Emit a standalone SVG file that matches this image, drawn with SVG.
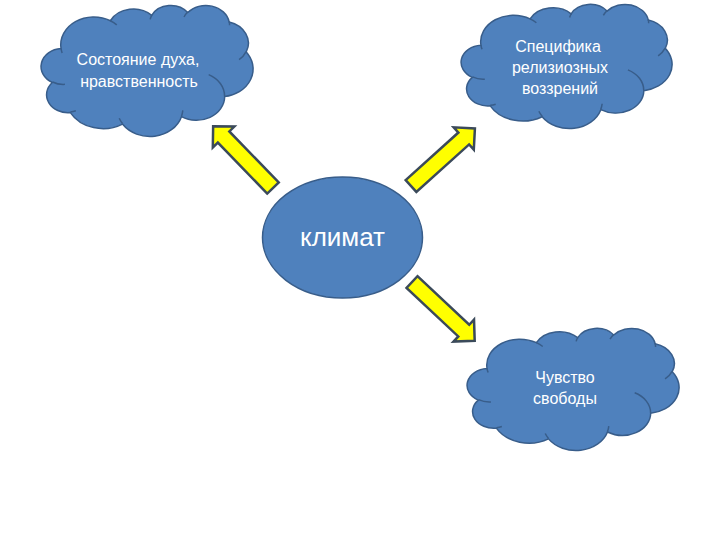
<svg xmlns="http://www.w3.org/2000/svg" xmlns:xlink="http://www.w3.org/1999/xlink" width="720" height="540" viewBox="0 0 720 540">
  <style>
    .shape { fill: #4f81bd; stroke: #385d8a; stroke-width: 1.5; }
    .fold { fill: none; stroke: #385d8a; stroke-width: 1.5; }
    .ns { vector-effect: non-scaling-stroke; }
    .lbl { font-family: "Liberation Sans", Arial, sans-serif; font-size: 16px; fill: #ffffff; text-anchor: middle; }
    .big { font-size: 25px; }
    .arrow { fill: #ffff00; stroke: #3b4a5a; stroke-width: 2.5; stroke-linejoin: miter; }
  </style>
  <defs>
    <path id="cloudBody" class="shape ns" d="M 9.03 33.26 A 15.63 21.27 0 0 1 32.42 12.04 A 12.35 16.82 0 0 1 51.98 7.95 A 10.10 13.76 0 0 1 69.06 5.74 A 11.24 15.27 0 0 1 88.70 12.91 A 12.35 16.84 0 0 1 96.80 35.79 A 15.68 21.34 0 0 1 86.58 69.92 A 13.39 18.21 0 0 1 66.10 85.22 A 15.63 21.33 0 0 1 38.15 90.89 A 17.87 24.41 0 0 1 13.44 82.11 A 10.09 13.70 0 0 1 4.89 59.14 A 10.06 13.76 0 0 1 9.03 33.26 Z"/>
    <path id="cloudFolds" class="fold ns" d="M 10.86 60.59 A 10.06 13.76 0 0 1 5.00 58.75 M 16.04 80.78 A 10.09 13.70 0 0 1 13.47 81.67 M 38.14 90.49 A 15.63 21.33 0 0 1 36.60 86.46 M 66.73 80.44 A 15.63 21.33 0 0 1 66.11 84.86 M 79.00 53.13 A 13.39 18.21 0 0 1 86.53 69.65 M 96.75 35.54 A 12.35 16.84 0 0 1 93.40 41.74 M 88.71 12.56 A 11.24 15.27 0 0 1 88.89 15.49 M 67.31 9.15 A 11.24 15.27 0 0 1 69.03 5.41 M 51.25 10.93 A 10.10 13.76 0 0 1 52.08 7.71 M 32.41 12.02 A 15.63 21.27 0 0 1 35.42 15.14 M 9.55 36.55 A 15.63 21.27 0 0 1 9.03 33.27"/>
    <path id="blockArrow" class="arrow" d="M 0 -8 L 71 -8 L 71 -15 L 86 0 L 71 15 L 71 8 L 0 8 Z"/>
  </defs>
  <rect width="720" height="540" fill="#ffffff"/>

  <g id="connectors">
    <use xlink:href="#blockArrow" href="#blockArrow" transform="translate(273 188) rotate(-134.1)"/>
    <use xlink:href="#blockArrow" href="#blockArrow" transform="translate(411 186) rotate(-42)"/>
    <use xlink:href="#blockArrow" href="#blockArrow" transform="translate(412 282) rotate(43.2)"/>
  </g>

  <g id="node-climate">
    <ellipse class="shape" cx="342.5" cy="237.5" rx="80" ry="60.5"/>
    <text class="lbl big" x="342.5" y="246" textLength="85" lengthAdjust="spacingAndGlyphs">климат</text>
  </g>

  <g id="node-spirit">
    <g transform="translate(42 5) scale(2.11 1.31)">
      <use xlink:href="#cloudBody" href="#cloudBody"/>
      <use xlink:href="#cloudFolds" href="#cloudFolds"/>
    </g>
    <text class="lbl" x="138" y="65">Состояние духа,</text>
    <text class="lbl" x="139" y="87">нравственность</text>
  </g>

  <g id="node-religion">
    <g transform="translate(462 4) scale(2.10 1.24)">
      <use xlink:href="#cloudBody" href="#cloudBody"/>
      <use xlink:href="#cloudFolds" href="#cloudFolds"/>
    </g>
    <text class="lbl" x="558" y="52">Специфика</text>
    <text class="lbl" x="560" y="73">релизиозных</text>
    <text class="lbl" x="560" y="94">воззрений</text>
  </g>

  <g id="node-freedom">
    <g transform="translate(468 328) scale(2.11 1.22)">
      <use xlink:href="#cloudBody" href="#cloudBody"/>
      <use xlink:href="#cloudFolds" href="#cloudFolds"/>
    </g>
    <text class="lbl" x="565" y="383">Чувство</text>
    <text class="lbl" x="565" y="404">свободы</text>
  </g>
</svg>
